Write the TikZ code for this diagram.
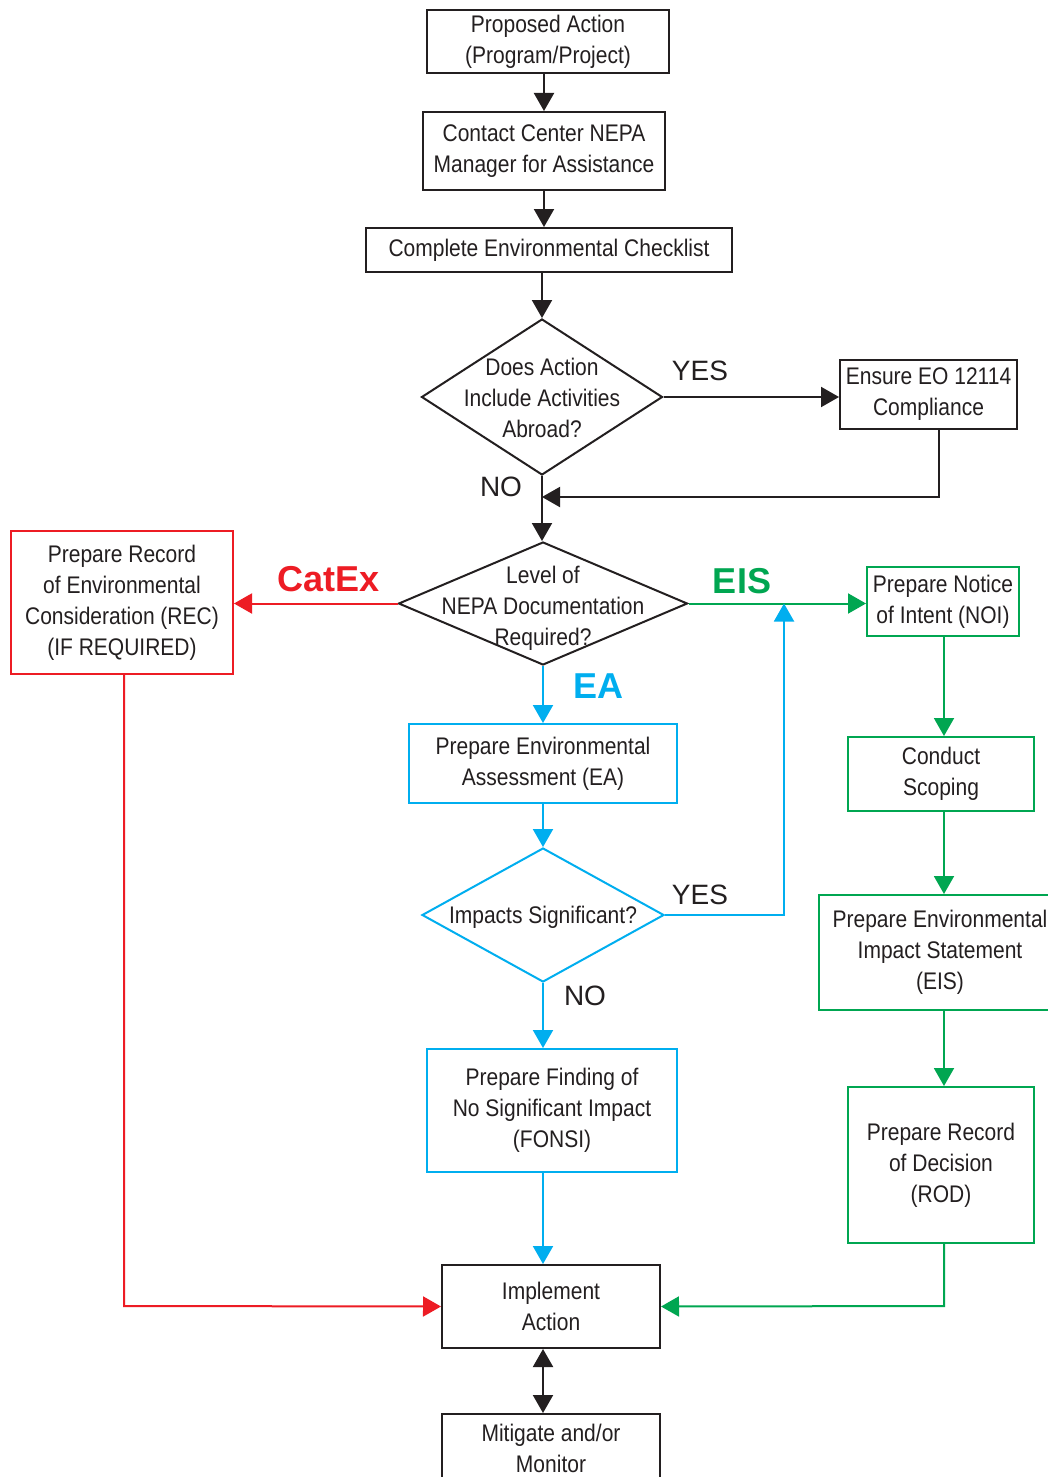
\documentclass[tikz,border=0pt]{standalone}
\usepackage{fontspec}
\setmainfont{Liberation Sans}[FakeStretch=0.875]
\newfontfamily\lblfont{Liberation Sans}
\usetikzlibrary{arrows.meta,shapes.geometric}
\definecolor{ink}{HTML}{231F20}
\definecolor{cred}{HTML}{ED1C24}
\definecolor{cgreen}{HTML}{00A651}
\definecolor{cblue}{HTML}{00AEEF}
\tikzset{
  box/.style={draw=#1, line width=2pt, inner sep=0pt, align=center, text=ink,
    font=\fontsize{24}{31}\selectfont},
  box/.default=ink,
  dia/.style={draw=#1, shape=diamond, line width=2pt, inner sep=0pt},
  dia/.default=ink,
  dtext/.style={align=center, text=ink, inner sep=0pt, font=\fontsize{24}{31}\selectfont},
  arr/.style={draw=#1, line width=2pt, -{Triangle[length=18pt,width=20pt]}},
  arr/.default=ink,
  yn/.style={text=ink, inner sep=0pt, font=\lblfont\fontsize{28}{30}\selectfont},
  big/.style={text=#1, inner sep=0pt, font=\lblfont\bfseries\fontsize{36}{38}\selectfont},
}
\begin{document}
\begin{tikzpicture}[x=1pt,y=-1pt]
\useasboundingbox (0,0) rectangle (1047,1477);
\fill[white] (0,0) rectangle (1047,1477);
% nodes
\node[box, minimum width=242, minimum height=63] (pa) at (548,41.5) {Proposed Action\\(Program/Project)};
\node[box, minimum width=242, minimum height=78] (cc) at (544,151) {Contact Center NEPA\\Manager for Assistance};
\node[box, minimum width=366, minimum height=44] (cl) at (549,250) {Complete Environmental Checklist};
\node[dia, minimum width=241, minimum height=156] (d1) at (542,397) {};
\node[dtext] (d1t) at ([yshift=-1pt]d1.center) {Does Action\\Include Activities\\Abroad?};
\node[box, minimum width=177, minimum height=69] (eo) at (928.5,394.5) {Ensure EO 12114\\Compliance};
\node[dia, minimum width=289, minimum height=123] (d2) at (543,603.5) {};
\node[dtext] (d2t) at ([yshift=-5pt]d2.center) {Level of\\NEPA Documentation\\Required?};
\node[box=cred, minimum width=222, minimum height=143] (rec) at (122,602.5) {Prepare Record\\of Environmental\\Consideration (REC)\\(IF REQUIRED)};
\node[box=cgreen, minimum width=152, minimum height=69] (noi) at (943,601.5) {Prepare Notice\\of Intent (NOI)};
\node[box=cblue, minimum width=268, minimum height=79] (ea) at (543,763.5) {Prepare Environmental\\Assessment (EA)};
\node[dia=cblue, minimum width=242, minimum height=134] (d3) at (543,915) {};
\node[dtext] (d3t) at ([yshift=-2pt]d3.center) {Impacts Significant?};
\node[box=cblue, minimum width=250, minimum height=123] (fonsi) at (552,1110.5) {Prepare Finding of\\No Significant Impact\\(FONSI)};
\node[box=cgreen, minimum width=186, minimum height=74] (sc) at (941,774) {Conduct\\Scoping};
\node[box=cgreen, minimum width=242, minimum height=115] (eis) at (940,952.5) {Prepare Environmental\\Impact Statement\\(EIS)};
\node[box=cgreen, minimum width=186, minimum height=156] (rod) at (941,1165) {Prepare Record\\of Decision\\(ROD)};
\node[box, minimum width=218, minimum height=83] (imp) at (551,1306.5) {Implement\\Action};
\node[box, minimum width=218, minimum height=68] (mit) at (551,1448) {Mitigate and/or\\Monitor};
% labels
\node[yn] (y1) at (700,371) {YES};
\node[yn] (n1) at (501,487) {NO};
\node[yn] (y2) at (700,895) {YES};
\node[yn] (n2) at (585,996) {NO};
\node[big=cred] (lcat) at (329,579) {CatEx};
\node[big=cgreen] (leis) at (742,581) {EIS};
\node[big=cblue] (lea) at (598,686) {EA};
% coordinates
\coordinate (eoc) at (939,497);
\coordinate (bluec) at (784,915);
\coordinate (redc) at (124,1306);
\coordinate (grnc) at (944,1306);
% connectors
\draw[arr] (pa.south -| cc.north) -- (cc.north);
\draw[arr] (cc.south) -- (cc.south |- cl.north);
\draw[arr] (cl.south -| d1.north) -- (d1.north);
\draw[arr] (d1.east) -- (d1.east -| eo.west);
\draw[arr] (eo.south -| eoc) -- (eoc) -- (eoc -| d1.south);
\draw[arr] (d1.south) -- (d1.south |- d2.north);
\draw[arr=cred] (d2.west) -- (d2.west -| rec.east);
\draw[arr=cgreen] (d2.east) -- (d2.east -| noi.west);
\draw[arr=cblue] (d2.south) -- (d2.south |- ea.north);
\draw[arr=cblue] (ea.south -| d3.north) -- (d3.north);
\draw[arr=cblue] (d3.east) -- (bluec) -- (bluec |- d2.east);
\draw[arr=cblue] (d3.south) -- (d3.south |- fonsi.north);
\draw[arr=cblue] (fonsi.south -| d3.south) -- (d3.south |- imp.north);
\draw[arr=cgreen] (noi.south -| grnc) -- (grnc |- sc.north);
\draw[arr=cgreen] (sc.south -| grnc) -- (grnc |- eis.north);
\draw[arr=cgreen] (eis.south -| grnc) -- (grnc |- rod.north);
\draw[arr=cgreen] (rod.south -| grnc) -- (grnc) -- (imp.east);
\draw[arr=cred] (rec.south -| redc) -- (redc) -- (imp.west);
\draw[line width=2pt, draw=ink, {Triangle[length=18pt,width=20pt]}-{Triangle[length=18pt,width=20pt]}] (imp.south -| d3.south) -- (d3.south |- mit.north);
\end{tikzpicture}
\end{document}
